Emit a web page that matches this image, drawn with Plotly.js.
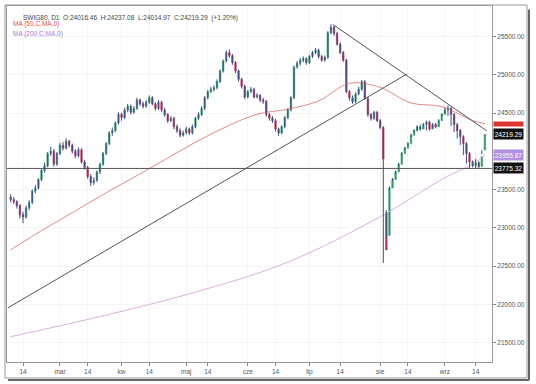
<!DOCTYPE html>
<html><head><meta charset="utf-8">
<script src="https://cdn.plot.ly/plotly-3.0.1.min.js"></script>
<style>html,body{margin:0;padding:0;background:#fff}#chart{width:536px;height:384px}</style>
</head><body><div id="chart"></div>
<script>
const dates = [
"2024-02-08","2024-02-09","2024-02-12","2024-02-13","2024-02-14","2024-02-15","2024-02-16","2024-02-19","2024-02-20","2024-02-21","2024-02-22","2024-02-23","2024-02-26","2024-02-27","2024-02-28","2024-02-29",
"2024-03-01","2024-03-04","2024-03-05","2024-03-06","2024-03-07","2024-03-08","2024-03-11","2024-03-12","2024-03-13","2024-03-14","2024-03-15","2024-03-18","2024-03-19","2024-03-20","2024-03-21","2024-03-22","2024-03-25","2024-03-26","2024-03-27","2024-03-28",
"2024-04-02","2024-04-03","2024-04-04","2024-04-05","2024-04-08","2024-04-09","2024-04-10","2024-04-11","2024-04-12","2024-04-15","2024-04-16","2024-04-17","2024-04-18","2024-04-19","2024-04-22","2024-04-23","2024-04-24","2024-04-25","2024-04-26","2024-04-29","2024-04-30",
"2024-05-02","2024-05-06","2024-05-07","2024-05-08","2024-05-09","2024-05-10","2024-05-13","2024-05-14","2024-05-15","2024-05-16","2024-05-17","2024-05-20","2024-05-21","2024-05-22","2024-05-23","2024-05-24","2024-05-27","2024-05-28","2024-05-29","2024-05-31",
"2024-06-03","2024-06-04","2024-06-05","2024-06-06","2024-06-07","2024-06-10","2024-06-11","2024-06-12","2024-06-13","2024-06-14","2024-06-17","2024-06-18","2024-06-19","2024-06-20","2024-06-21","2024-06-24","2024-06-25","2024-06-26","2024-06-27","2024-06-28",
"2024-07-01","2024-07-02","2024-07-03","2024-07-04","2024-07-05","2024-07-08","2024-07-09","2024-07-10","2024-07-11","2024-07-12","2024-07-15","2024-07-16","2024-07-17","2024-07-18","2024-07-19","2024-07-22","2024-07-23","2024-07-24","2024-07-25","2024-07-26","2024-07-29","2024-07-30","2024-07-31",
"2024-08-01","2024-08-02","2024-08-05","2024-08-06","2024-08-07","2024-08-08","2024-08-09","2024-08-12","2024-08-13","2024-08-14","2024-08-16","2024-08-19","2024-08-20","2024-08-21","2024-08-22","2024-08-23","2024-08-26","2024-08-27","2024-08-28","2024-08-29","2024-08-30",
"2024-09-02","2024-09-03","2024-09-04","2024-09-05","2024-09-06","2024-09-09","2024-09-10","2024-09-11","2024-09-12","2024-09-13","2024-09-16","2024-09-17","2024-09-18","2024-09-19"];

const open = [23400,23370,23340,23290,23170,23140,23260,23330,23480,23520,23630,23750,23810,23970,24000,23830,
23970,24080,24040,24130,24080,24000,23940,24020,23860,23790,23670,23590,23620,23730,23830,23970,24100,24240,24270,24370,
24480,24440,24540,24590,24510,24560,24670,24620,24590,24640,24700,24620,24560,24640,24540,24480,24400,24430,24320,24270,24210,
24240,24290,24240,24320,24430,24480,24560,24700,24780,24810,24830,24910,25050,25180,25290,25250,25160,25050,24940,24850,
24710,24780,24810,24710,24730,24670,24650,24480,24430,24400,24290,24240,24320,24440,24540,24700,25100,25150,25190,25210,
25160,25240,25290,25320,25240,25190,25230,25550,25620,25540,25400,25290,25190,24780,24700,24650,24750,24810,24910,24690,24480,24430,24510,
24400,24310,23200,22900,23520,23630,23730,23830,23970,24040,24100,24210,24270,24320,24290,24350,24380,24290,24350,24320,24400,
24480,24540,24560,24480,24350,24270,24190,24100,23970,23860,23810,23850,23800,24016.46];

const high = [23440,23400,23360,23310,23210,23290,23360,23500,23560,23650,23770,23850,23990,24060,24030,23990,
24110,24120,24170,24150,24100,24030,24050,24040,23890,23810,23700,23660,23750,23850,23990,24120,24260,24310,24390,24510,
24500,24570,24620,24610,24590,24700,24690,24650,24670,24730,24720,24640,24670,24660,24570,24500,24460,24450,24350,24300,24270,
24320,24310,24350,24450,24510,24590,24720,24800,24840,24860,24940,25070,25200,25320,25330,25270,25180,25070,24960,24870,
24800,24840,24830,24760,24750,24700,24670,24500,24460,24420,24310,24340,24460,24560,24720,25120,25180,25220,25240,25230,
25260,25310,25350,25340,25260,25250,25570,25660,25640,25560,25420,25310,25210,24800,24730,24770,24840,24930,24930,24710,24500,24530,24530,
24420,24330,23230,23540,23650,23750,23850,23990,24060,24120,24230,24290,24340,24350,24370,24400,24400,24370,24370,24420,24500,
24570,24600,24580,24500,24370,24290,24210,24120,23990,23880,23900,23870,23960,24237.08];

const low = [23330,23310,23250,23120,23060,23120,23230,23310,23450,23500,23610,23720,23790,23940,23800,23810,
23950,24010,24020,24050,23970,23910,23920,23840,23760,23640,23550,23560,23600,23700,23810,23950,24080,24200,24250,24350,
24400,24420,24510,24480,24490,24540,24590,24560,24570,24620,24600,24530,24540,24510,24450,24370,24380,24290,24240,24180,24190,
24220,24210,24220,24300,24410,24460,24540,24680,24760,24780,24810,24890,25030,25160,25220,25130,25020,24910,24820,24680,
24690,24760,24690,24690,24640,24620,24450,24400,24370,24260,24200,24220,24300,24420,24520,24680,25080,25120,25160,25130,
25140,25220,25270,25210,25170,25170,25210,25530,25510,25380,25270,25170,24760,24660,24620,24630,24730,24790,24670,24450,24400,24410,
24380,24290,22540,22880,23500,23610,23710,23810,23950,24020,24080,24190,24250,24260,24270,24330,24270,24270,24300,24300,24380,
24460,24500,24460,24330,24250,24170,24080,23950,23840,23780,23790,23770,23780,24014.97];

const close = [23370,23340,23290,23170,23140,23260,23330,23480,23520,23630,23750,23810,23970,24000,23830,23970,
24080,24040,24130,24080,24000,23940,24020,23860,23790,23670,23590,23620,23730,23830,23970,24100,24240,24270,24370,24480,
24440,24540,24590,24510,24560,24670,24620,24590,24640,24700,24620,24560,24640,24540,24480,24400,24430,24320,24270,24210,24240,
24290,24240,24320,24430,24480,24560,24700,24780,24810,24830,24910,25050,25180,25290,25250,25160,25050,24940,24850,24710,
24780,24810,24710,24730,24670,24650,24480,24430,24400,24290,24240,24320,24440,24540,24700,25100,25150,25190,25210,25160,
25240,25290,25320,25240,25190,25230,25550,25620,25540,25400,25290,25190,24780,24700,24650,24750,24810,24910,24690,24480,24430,24510,24400,
24310,23900,22710,23520,23630,23730,23830,23970,24040,24100,24210,24270,24320,24290,24350,24380,24290,24350,24320,24400,24480,
24540,24560,24480,24350,24270,24190,24100,23970,23860,23810,23850,23800,23932,24219.29];

// Moving averages at sample dates
const ma50Dates = ["2024-02-08","2024-02-22","2024-03-07","2024-03-21","2024-04-08","2024-04-22","2024-05-08","2024-05-22","2024-06-06","2024-06-20","2024-07-04","2024-07-18","2024-08-01","2024-08-16","2024-08-30","2024-09-13","2024-09-19"];
const ma50Vals = [22712,22962,23197,23434,23659,23888,24118,24321,24483,24551,24658,24888,24834,24631,24584,24402,24361];
const ma200Dates = ["2024-02-08","2024-03-21","2024-05-08","2024-06-20","2024-08-01","2024-08-30","2024-09-13","2024-09-19"];
const ma200Vals = [21576,21849,22159,22550,23145,23632,23834,23955.87];

const tickDates = ["2024-02-14","2024-03-01","2024-03-14","2024-04-02","2024-04-15","2024-05-02","2024-05-14","2024-06-03","2024-06-14","2024-07-01","2024-07-15","2024-08-01","2024-08-14","2024-09-02","2024-09-16"];
const tickLabels = ["14","mar","14","kw","14","maj","14","cze","14","lip","14","sie","14","wrz","14"];
const yTicks = [21500,22000,22500,23000,23500,24500,25000,25500];

const lastClose = 24219.29, ma50Last = 24361, ma200Last = 23955.87, hLevel = 23775.32;
// trend lines: [bar index, price]
const supportLine = [[-0.9,21953],[128.7,25010]];
const resistLine = [[104.6,25658],[154.6,24267]];

const FONT = "Liberation Sans, Arial, sans-serif";

// wicks drawn in a dark slate colour, bodies coloured by direction
const wx = [], wy = [];
dates.forEach((d, i) => { wx.push(d, d, null); wy.push(high[i], low[i], null); });
const bodyTop = open.map((o, i) => Math.max(o, close[i]));
const bodyBot = open.map((o, i) => Math.min(o, close[i]));

const traces = [
 {type:'scatter', mode:'lines', x:ma200Dates, y:ma200Vals, line:{color:'#dcaee0', width:1, shape:'spline', smoothing:1}, hoverinfo:'skip'},
 {type:'scatter', mode:'lines', x:ma50Dates, y:ma50Vals, line:{color:'#e58a84', width:1, shape:'spline', smoothing:1}, hoverinfo:'skip'},
 {type:'scatter', mode:'lines', x:wx, y:wy, line:{color:'#3d4f86', width:1}, hoverinfo:'skip', connectgaps:false},
 {type:'candlestick', x:dates, open:open, high:bodyTop, low:bodyBot, close:close, whiskerwidth:0,
  increasing:{line:{color:'#2f9a6b', width:0.6}, fillcolor:'#2f9a6b'},
  decreasing:{line:{color:'#b0325a', width:0.6}, fillcolor:'#b0325a'}}
];

const shapes = [
 {type:'line', xref:'x', yref:'y', x0:supportLine[0][0], y0:supportLine[0][1], x1:supportLine[1][0], y1:supportLine[1][1], line:{color:'#555', width:1}},
 {type:'line', xref:'x', yref:'y', x0:resistLine[0][0], y0:resistLine[0][1], x1:resistLine[1][0], y1:resistLine[1][1], line:{color:'#555', width:1}},
 {type:'line', xref:'paper', yref:'y', x0:0, x1:1, y0:hLevel, y1:hLevel, line:{color:'#555', width:1}},
 {type:'rect', xref:'paper', yref:'paper', x0:-0.0041, x1:1.0722, y0:-0.0449, y1:1.0028, line:{color:'#999', width:1}, fillcolor:'rgba(0,0,0,0)', layer:'below'},
 {type:'line', xref:'paper', yref:'paper', x0:1.0763, x1:1.0763, y0:0.99, y1:-0.0506, line:{color:'#666', width:2}},
 {type:'line', xref:'paper', yref:'paper', x0:0.002, x1:1.0763, y0:-0.0506, y1:-0.0506, line:{color:'#666', width:2}}
];

function priceBox(y, text, bg, h) {
  return {xref:'paper', yref:'y', x:1.003, xanchor:'left', y:y, yanchor:'middle', text:text, showarrow:false,
    bgcolor:bg, font:{family:FONT, size:6.5, color:'#fff'}, width:29, height:h, borderpad:0, align:'center'};
}

const annotations = [
 {xref:'paper', yref:'paper', x:0.029, y:0.967, xanchor:'left', yanchor:'middle', showarrow:false,
  text:'SWIG80, D1  O:24016.46  H:24237.08  L:24014.97  C:24219.29  (+1.20%)', font:{family:FONT, size:6.5, color:'#444'}},
 {xref:'paper', yref:'paper', x:0.008, y:0.949, xanchor:'left', yanchor:'middle', showarrow:false,
  text:'MA (50,C,MA,0)', font:{family:FONT, size:6.5, color:'#d9534f'}},
 {xref:'paper', yref:'paper', x:0.008, y:0.92, xanchor:'left', yanchor:'middle', showarrow:false,
  text:'MA (200,C,MA,0)', font:{family:FONT, size:6.5, color:'#a07cc8'}},
 priceBox(ma50Last, ' ', '#e0362f', 4),
 priceBox(lastClose, lastClose.toFixed(2), '#111', 10),
 priceBox(ma200Last, ma200Last.toFixed(2), '#b08ee0', 10),
 priceBox(hLevel, hLevel.toFixed(2), '#111', 10)
];

const layout = {
  width:536, height:384,
  margin:{l:7, r:44, t:6, b:22},
  paper_bgcolor:'#fff', plot_bgcolor:'#fff',
  showlegend:false, hovermode:false,
  font:{family:FONT, size:6.5, color:'#555'},
  xaxis:{type:'category', categoryorder:'array', categoryarray:dates, range:[-1.2,156.3],
    tickvals:tickDates, ticktext:tickLabels, ticks:'outside', ticklen:3, tickcolor:'#888',
    showline:true, linecolor:'#999', linewidth:1, mirror:true,
    showgrid:true, gridcolor:'#f4f4f4', zeroline:false, rangeslider:{visible:false},
    tickfont:{family:FONT, size:6.5, color:'#555'}},
  yaxis:{range:[21245,25899], side:'right', tickvals:yTicks, tickformat:'.2f', ticks:'outside', ticklen:3, tickcolor:'#888',
    showline:true, linecolor:'#999', linewidth:1, mirror:true,
    showgrid:true, gridcolor:'#f4f4f4', zeroline:false,
    tickfont:{family:FONT, size:6.5, color:'#555'}},
  shapes:shapes,
  annotations:annotations
};

Plotly.newPlot('chart', traces, layout, {displayModeBar:false, staticPlot:true});
</script>
</body></html>
